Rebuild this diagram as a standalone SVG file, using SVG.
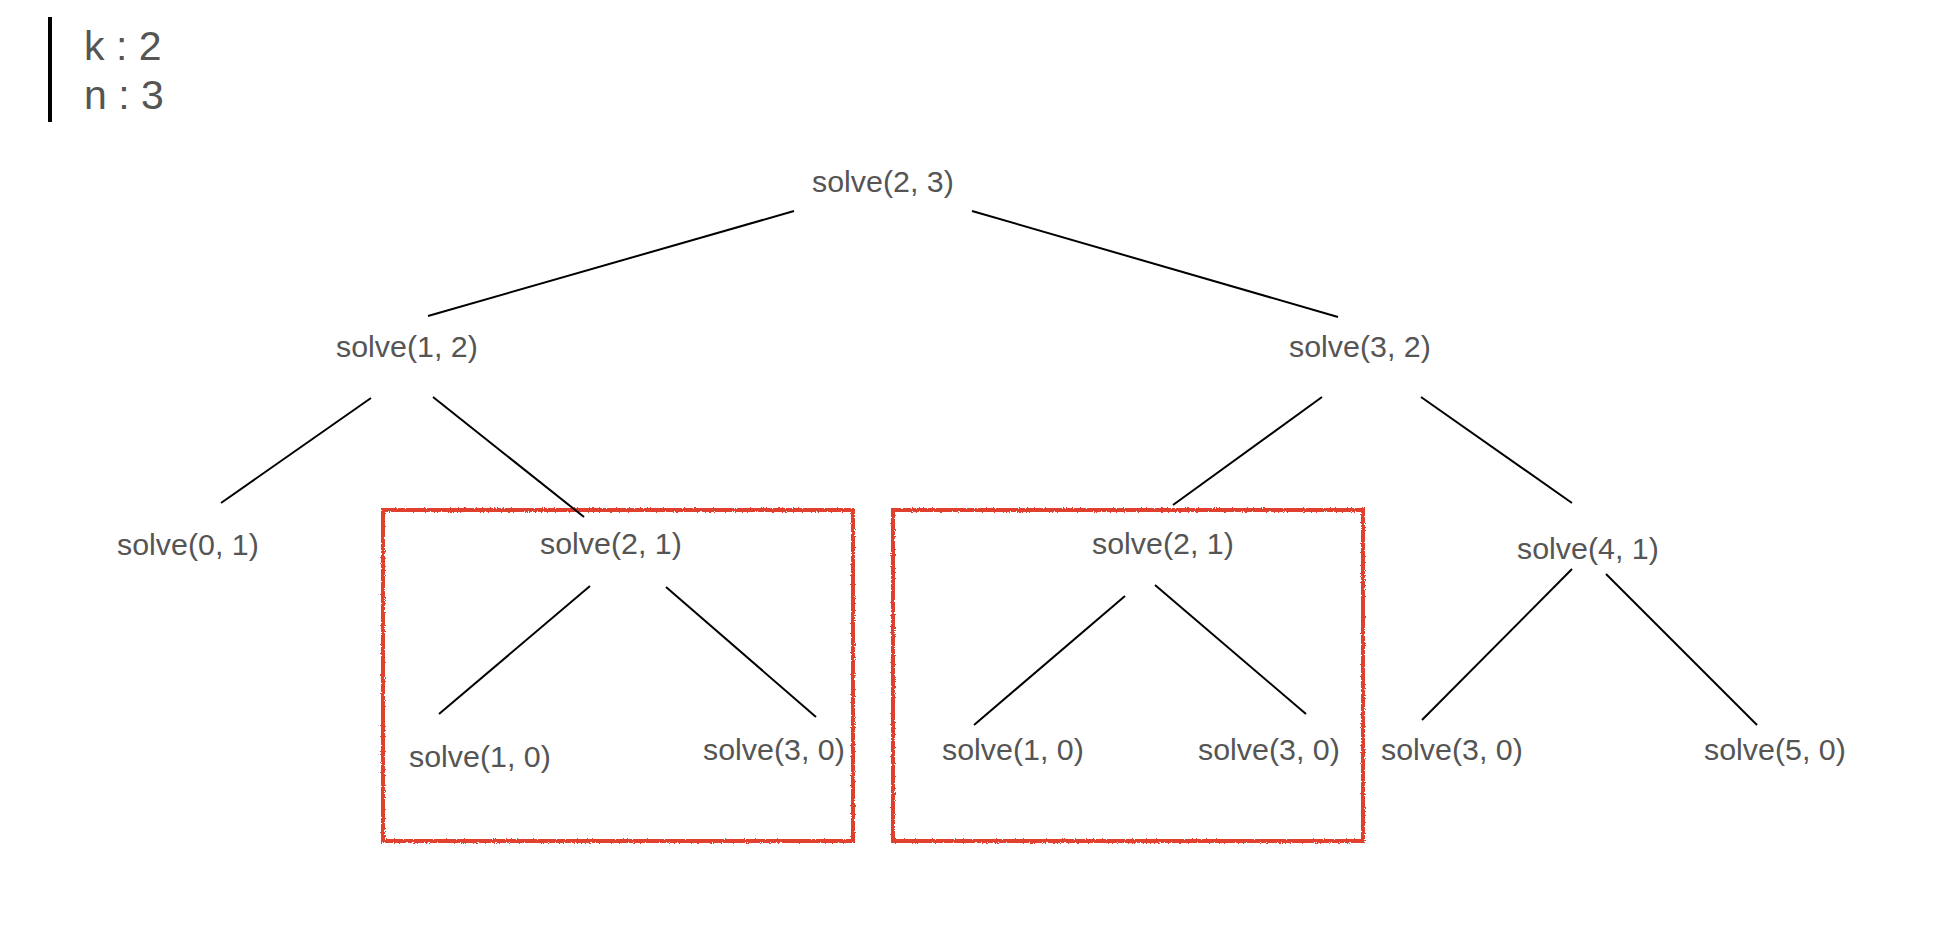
<svg xmlns="http://www.w3.org/2000/svg" width="1944" height="952" viewBox="0 0 1944 952">
  <style>
    .lbl { font-family: "Liberation Sans", Arial, sans-serif; font-size: 30.4px; fill: #555555; }
    .var { font-family: "Liberation Sans", Arial, sans-serif; font-size: 41px; fill: #555555; }
    .edge { stroke: #000000; stroke-width: 2; fill: none; }
    .group { fill: none; stroke: #e2402e; stroke-width: 4; filter: url(#crayon); }
  </style>
  <defs>
    <!-- slightly rough, crayon-like outline for the highlight boxes -->
    <filter id="crayon" x="-5%" y="-5%" width="110%" height="110%">
      <feTurbulence type="fractalNoise" baseFrequency="0.9" numOctaves="2" seed="3" result="noise"/>
      <feDisplacementMap in="SourceGraphic" in2="noise" scale="3" xChannelSelector="R" yChannelSelector="G"/>
    </filter>
  </defs>
  <rect width="1944" height="952" fill="#ffffff"/>

  <!-- parameters -->
  <g id="params">
    <rect x="48" y="17" width="4" height="105" fill="#000000"/>
    <text class="var" x="84" y="60">k : 2</text>
    <text class="var" x="84" y="109">n : 3</text>
  </g>

  <!-- highlighted repeated sub-trees -->
  <g id="highlight-1"><rect class="group" x="383" y="510" width="470" height="331"/></g>
  <g id="highlight-2"><rect class="group" x="893" y="510" width="470" height="331"/></g>

  <!-- connectors -->
  <g id="edges">
    <line class="edge" x1="794" y1="211" x2="428" y2="316"/>
    <line class="edge" x1="972" y1="211" x2="1338" y2="317"/>
    <line class="edge" x1="371" y1="398" x2="221" y2="503"/>
    <line class="edge" x1="433" y1="397" x2="584" y2="517"/>
    <line class="edge" x1="1322" y1="397" x2="1173" y2="505"/>
    <line class="edge" x1="1421" y1="397" x2="1572" y2="503"/>
    <line class="edge" x1="590" y1="586" x2="439" y2="714"/>
    <line class="edge" x1="666" y1="587" x2="816" y2="717"/>
    <line class="edge" x1="1125" y1="596" x2="974" y2="725"/>
    <line class="edge" x1="1155" y1="585" x2="1306" y2="714"/>
    <line class="edge" x1="1572" y1="569" x2="1422" y2="720"/>
    <line class="edge" x1="1606" y1="574" x2="1757" y2="725"/>
  </g>

  <!-- nodes -->
  <g id="n-2-3"><text class="lbl" x="812" y="192">solve(2, 3)</text></g>
  <g id="n-1-2"><text class="lbl" x="336" y="357">solve(1, 2)</text></g>
  <g id="n-3-2"><text class="lbl" x="1289" y="357">solve(3, 2)</text></g>
  <g id="n-0-1"><text class="lbl" x="117" y="555">solve(0, 1)</text></g>
  <g id="n-2-1-a"><text class="lbl" x="540" y="554">solve(2, 1)</text></g>
  <g id="n-2-1-b"><text class="lbl" x="1092" y="554">solve(2, 1)</text></g>
  <g id="n-4-1"><text class="lbl" x="1517" y="559">solve(4, 1)</text></g>
  <g id="n-1-0-a"><text class="lbl" x="409" y="767">solve(1, 0)</text></g>
  <g id="n-3-0-a"><text class="lbl" x="703" y="760">solve(3, 0)</text></g>
  <g id="n-1-0-b"><text class="lbl" x="942" y="760">solve(1, 0)</text></g>
  <g id="n-3-0-b"><text class="lbl" x="1198" y="760">solve(3, 0)</text></g>
  <g id="n-3-0-c"><text class="lbl" x="1381" y="760">solve(3, 0)</text></g>
  <g id="n-5-0"><text class="lbl" x="1704" y="760">solve(5, 0)</text></g>
</svg>
